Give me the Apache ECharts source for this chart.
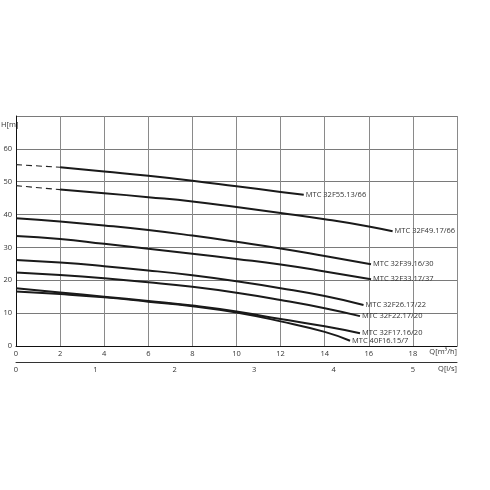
<!DOCTYPE html>
<html><head><meta charset="utf-8">
<script src="https://cdn.jsdelivr.net/npm/echarts@6/dist/echarts.min.js"></script>
<style>html,body{margin:0;padding:0;background:#fff}#c{width:490px;height:490px}</style>
</head><body><div id="c"></div>
<script>
// Q in m3/h, H in m
const names = ["MTC 32F55.13/66","MTC 32F49.17/66","MTC 32F39.16/30","MTC 32F33.17/37","MTC 32F26.17/22","MTC 32F22.17/20","MTC 32F17.16/20","MTC 40F16.15/7"];
const c1Dash = [[0,55.2],[2,54.4]];
const c1 = [[2,54.4],[4,53.1],[6,51.8],[8,50.3],[10,48.6],[12,46.9],[13.05,46.0]];
const c2Dash = [[0,48.8],[2,47.6]];
const c2 = [[2,47.6],[4,46.5],[6,45.3],[8,44.0],[10,42.3],[12,40.5],[14,38.6],[16,36.4],[17.08,34.9]];
const c3 = [[0,38.9],[2,37.9],[4,36.7],[6,35.3],[8,33.6],[10,31.7],[12,29.7],[14,27.4],[16.1,24.9]];
const c4 = [[0,33.5],[2,32.6],[4,31.1],[6,29.6],[8,28.1],[10,26.5],[12,24.8],[14,22.7],[16.1,20.3]];
const c5 = [[0,26.2],[2,25.4],[4,24.3],[6,23.0],[8,21.5],[10,19.7],[12,17.6],[14,15.2],[15.76,12.5]];
const c6 = [[0,22.4],[2,21.6],[4,20.6],[6,19.4],[8,18.0],[10,16.2],[12,14.0],[14,11.5],[15.6,9.1]];
const c7 = [[0,17.6],[2,16.3],[4,15.0],[6,13.7],[8,12.3],[10,10.5],[12,8.2],[14,6.0],[15.6,3.9]];
const c8 = [[0,16.6],[2,15.8],[4,14.8],[6,13.5],[8,12.1],[10,10.2],[12,7.5],[14,4.3],[15.15,1.6]];
const solid = [c1,c2,c3,c4,c5,c6,c7,c8];
const dashed = [c1Dash,c2Dash];
const qTicks = [0,2,4,6,8,10,12,14,16,18];
const lsTicks = [0,1,2,3,4,5];
const hTicks = [0,10,20,30,40,50,60];

const FONT = 'Open Sans';
const series = [];
solid.forEach((d,i)=>{
  series.push({type:'line', name:names[i], data:d, smooth:0.5, symbol:'none',
    lineStyle:{color:'#1a1a1a', width:2}, silent:true,
    endLabel:{show:true, formatter:names[i], color:'#333', fontSize:7.5, fontFamily:FONT, distance:2}});
});
dashed.forEach(d=>{
  series.push({type:'line', data:d, symbol:'none', lineStyle:{color:'#222', width:1.1, type:[6,4]}, silent:true});
});

const chart = echarts.init(document.getElementById('c'), null, {renderer:'canvas'});
chart.setOption({
  animation:false,
  grid:{left:16, right:33, top:116, bottom:144},
  xAxis:[{
    type:'value', min:0, max:20, interval:2, position:'bottom',
    axisLine:{show:true, onZero:false, lineStyle:{color:'#111', width:1}},
    axisTick:{show:false},
    splitLine:{show:true, lineStyle:{color:'#8a8a8a', width:1}},
    axisLabel:{fontSize:7.5, color:'#333', fontFamily:FONT, margin:4,
      formatter:v=> qTicks.includes(v) ? String(v) : ''}
  },{
    type:'value', min:0, max:20/3.6, interval:1, position:'bottom', offset:16,
    axisLine:{show:true, onZero:false, lineStyle:{color:'#333', width:1}},
    axisTick:{show:false}, splitLine:{show:false},
    axisLabel:{fontSize:7.5, color:'#333', fontFamily:FONT, margin:4,
      formatter:v=> lsTicks.includes(v) ? String(v) : ''}
  }],
  yAxis:{
    type:'value', min:0, max:70, interval:10,
    axisLine:{show:true, lineStyle:{color:'#111', width:1}},
    axisTick:{show:false},
    splitLine:{show:true, lineStyle:{color:'#7a7a7a', width:1}},
    axisLabel:{fontSize:7.5, color:'#333', fontFamily:FONT, margin:4,
      formatter:v=> hTicks.includes(v) ? String(v) : ''}
  },
  series:series,
  graphic:[
    {type:'text', left:1, top:121, style:{text:'H[m]', fontSize:7.5, fill:'#333', fontFamily:FONT}},
    {type:'text', right:33, top:348, style:{text:'Q[m³/h]', fontSize:7.5, fill:'#333', fontFamily:FONT}},
    {type:'text', right:33, top:365, style:{text:'Q[l/s]', fontSize:7.5, fill:'#333', fontFamily:FONT}}
  ]
});
</script></body></html>
